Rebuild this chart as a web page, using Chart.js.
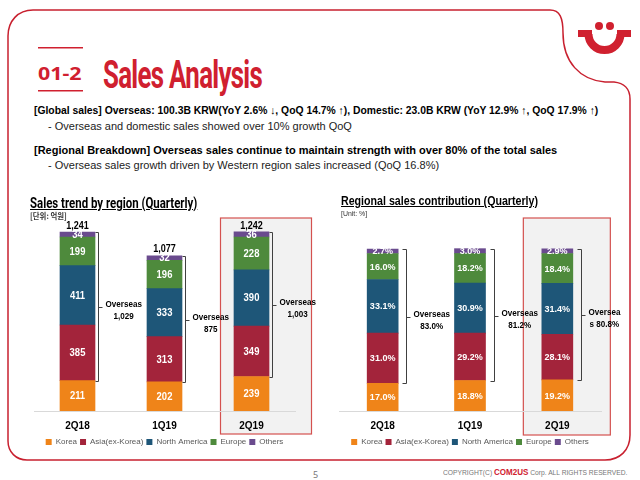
<!DOCTYPE html>
<html>
<head>
<meta charset="utf-8">
<script src="https://cdn.jsdelivr.net/npm/chart.js@4.4.0/dist/chart.umd.min.js"></script>
<style>
body { margin:0; width:640px; height:480px; background:#fff; position:relative; overflow:hidden;
       font-family:'Liberation Sans', Arial, sans-serif; color:#000; }
.t { position:absolute; white-space:nowrap; line-height:1; transform-origin:0 50%; }
canvas { position:absolute; }
svg { position:absolute; left:0; top:0; }
</style>
</head>
<body>
<svg width="640" height="480">
  <path d="M 33 10 H 550 C 560 10 563 18 563 33 C 563 62 580 80 605 82 H 614 C 624 83 630 89 630 99 V 435 C 630 450 620 460 605 460 H 27 C 16 460 8 452 8 441 V 36 C 8 21 18 10 33 10 Z"
        fill="none" stroke="#c8202f" stroke-width="1.5"/>
  <circle cx="599" cy="26" r="4" fill="#d0202f"/>
  <circle cx="610" cy="26" r="4" fill="#d0202f"/>
  <path d="M 588.5 34 A 16 16 0 0 0 620.5 34" fill="none" stroke="#d0202f" stroke-width="8"/>
  <rect x="578" y="30" width="14" height="7" fill="#d0202f"/>
  <rect x="617" y="30" width="14" height="7" fill="#d0202f"/>
  <rect x="38" y="47" width="45" height="1.5" fill="#d0202f"/>
  <rect x="38" y="90" width="45" height="1.5" fill="#d0202f"/>
</svg>

<div class="t" id="num" style="left:38px;top:61px;font:bold 18px 'Noto Sans';color:#d0202f">01-2</div>
<div class="t" id="ttl" style="left:103px;top:53px;font:bold 38px Roboto;color:#d0202f;letter-spacing:-1px">Sales Analysis</div>

<div class="t" id="l1" style="left:34px;top:105px;font-weight:bold;font-size:11px">[Global sales] Overseas: 100.3B KRW(YoY 2.6% &#8595;, QoQ 14.7% &#8593;), Domestic: 23.0B KRW (YoY 12.9% &#8593;, QoQ 17.9% &#8593;)</div>
<div class="t" style="left:48px;top:121px;font-size:11px;color:#222">- Overseas and domestic sales showed over 10% growth QoQ</div>
<div class="t" style="left:34px;top:145px;font-weight:bold;font-size:11px">[Regional Breakdown] Overseas sales continue to maintain strength with over 80% of the total sales</div>
<div class="t" style="left:48px;top:160px;font-size:11px;color:#222">- Overseas sales growth driven by Western region sales increased (QoQ 16.8%)</div>

<canvas id="chart1" width="300" height="267" style="left:20px;top:195px"></canvas>
<canvas id="chart2" width="300" height="267" style="left:325px;top:195px"></canvas>

<div class="t" id="h1" style="left:30px;top:194px;font:bold 15px Roboto;text-decoration:underline">Sales trend by region (Quarterly)</div>
<div class="t" id="u1" style="left:30px;top:210px;font:bold 8px 'Noto Sans CJK KR';color:#333">[단위: 억원]</div>
<div class="t" id="h2" style="left:341px;top:195px;font-weight:bold;font-size:12px;text-decoration:underline">Regional sales contribution (Quarterly)</div>
<div class="t" id="u2" style="left:341px;top:210px;font-size:8px;color:#333">[Unit: %]</div>

<div class="t" style="left:313px;top:468px;font:9px 'Noto Sans';color:#777">5</div>
<div class="t" id="cp" style="left:443px;top:468px;font-size:7.5px;color:#777">COPYRIGHT(C) <b style="color:#d0202f;font-size:9px">COM2US</b> Corp. ALL RIGHTS RESERVED.</div>

<script>
// ----------------------------------------------------------------------
const categories = ["2Q18","1Q19","2Q19"]
const regions = ["Korea","Asia(ex-Korea)","North America","Europe","Others"]

const salesKorea = [211,202,239]
const salesAsia = [385,313,349]
const salesNorthAmerica = [411,333,390]
const salesEurope = [199,196,228]
const salesOthers = [34,32,36]
const salesTotal = ["1,241","1,077","1,242"]
const salesOverseas = [["Overseas","1,029"],["Overseas","875"],["Overseas","1,003"]]

const shareKorea = [17.0,18.8,19.2]
const shareAsia = [31.0,29.2,28.1]
const shareNorthAmerica = [33.1,30.9,31.4]
const shareEurope = [16.0,18.2,18.4]
const shareOthers = [2.7,3.0,2.9]
const shareOverseas = [["Overseas","83.0%"],["Overseas","81.2%"],["Oversea","s 80.8%"]]

const colors = ['#EF8419','#A3243B','#1E5678','#4E8A3C','#6A4B8E']
const FONT = "'Liberation Sans', Arial, sans-serif"

// ----------------------------------------------------------------------
function fit (id, w)
{
    const el = document.getElementById(id)
    el.style.transform = 'scaleX(' + (w / el.offsetWidth) + ')'
}

fit('num', 44)
fit('ttl', 159)
fit('l1', 564)
fit('h1', 167)
fit('u1', 37)
fit('h2', 197)
fit('u2', 26)
fit('cp', 184)

// condensed text on the canvas
function narrowText (ctx, txt, x, y, sx)
{
    ctx.save()
    ctx.translate(x, y)
    ctx.scale(sx, 1)
    ctx.fillText(txt, 0, 0)
    ctx.restore()
}

// ----------------------------------------------------------------------
function overlayPlugin (cfg)
{
    return {
        id: 'overlay',
        afterLayout (chart) {
            // pull the legend row up closer to the category labels
            chart.legend.top -= 6
            chart.legend.bottom -= 6
        },
        beforeDraw (chart) {
            const ctx = chart.ctx
            const cx = chart.scales.x.getPixelForValue(cfg.boxIndex)
            const b = cfg.box
            ctx.save()
            ctx.fillStyle = '#f2f2f2'
            ctx.fillRect(cx + b[0], b[1], b[2] - b[0], b[3] - b[1])
            ctx.strokeStyle = '#d4514f'
            ctx.lineWidth = 1.2
            ctx.strokeRect(cx + b[0], b[1], b[2] - b[0], b[3] - b[1])
            ctx.restore()
        },
        afterDatasetsDraw (chart) {
            const ctx = chart.ctx
            const metas = chart.data.datasets.map((d, i) => chart.getDatasetMeta(i))
            ctx.save()
            ctx.textAlign = 'center'
            ctx.textBaseline = 'middle'
            ctx.fillStyle = '#fff'
            ctx.font = cfg.valueFont
            metas.forEach((m, di) => m.data.forEach((bar, i) => {
                const v = chart.data.datasets[di].data[i]
                const txt = cfg.decimals ? v.toFixed(1) + '%' : String(v)
                narrowText(ctx, txt, bar.x, (bar.y + bar.base) / 2 + 0.5, cfg.valueScale)
            }))

            const top = metas[metas.length - 1].data
            const korea = metas[0].data
            ctx.fillStyle = '#000'
            if (cfg.totals) {
                ctx.font = 'bold 10px ' + FONT
                ctx.textBaseline = 'bottom'
                top.forEach((bar, i) => narrowText(ctx, cfg.totals[i], bar.x, bar.y - 1, 0.9))
            }

            ctx.strokeStyle = '#404040'
            ctx.lineWidth = 1
            ctx.textBaseline = 'middle'
            ctx.font = 'bold 9.5px ' + FONT
            top.forEach((bar, i) => {
                const x = Math.round(bar.x + bar.width / 2 + cfg.gap) + 0.5
                const y0 = Math.round(bar.y) + 0.5
                const y1 = Math.round(korea[i].y) + 0.5
                const mid = Math.round((y0 + y1) / 2) + 0.5
                ctx.beginPath()
                ctx.moveTo(x - cfg.tick, y0)
                ctx.lineTo(x, y0)
                ctx.lineTo(x, y1)
                ctx.lineTo(x - cfg.tick, y1)
                ctx.moveTo(x, mid)
                ctx.lineTo(x + 4, mid)
                ctx.stroke()
                const lines = cfg.bracket[i]
                const tx = x + 7 + ctx.measureText(lines[0]).width * 0.85 / 2
                narrowText(ctx, lines[0], tx, mid - 3, 0.85)
                narrowText(ctx, lines[1], tx, mid + 9, 0.85)
            })
            ctx.restore()
        }
    }
}

// ----------------------------------------------------------------------
function makeChart (id, values, cfg)
{
    const datasets = values.map((v, i) => ({
        label: regions[i],
        data: v,
        backgroundColor: colors[i],
        borderWidth: 0,
        barThickness: cfg.barWidth
        }))

    return new Chart(document.getElementById(id), {
        type: 'bar',
        data: { labels: categories, datasets: datasets },
        options: {
            responsive: false,
            animation: false,
            events: [],
            layout: { padding: cfg.padding },
            scales: {
                x: {
                    stacked: true,
                    grid: { display: false, drawTicks: false },
                    border: { color: '#d9d9d9' },
                    ticks: { color: '#000', padding: 9, font: { family: FONT, size: 10, weight: 'bold' } }
                },
                y: { stacked: true, display: false, min: 0, max: cfg.max }
            },
            plugins: {
                legend: {
                    position: 'bottom',
                    labels: { boxWidth: 6, boxHeight: 6, padding: 3, color: '#595959',
                              font: { family: FONT, size: 8 } }
                },
                tooltip: { enabled: false }
            }
        },
        plugins: [overlayPlugin(cfg)]
    })
}

// ----------------------------------------------------------------------
makeChart('chart1',
    [salesKorea, salesAsia, salesNorthAmerica, salesEurope, salesOthers],
    { max: 1379, barWidth: 35, padding: { left: 14, right: 25, top: 17 },
      valueFont: 'bold 10.5px ' + FONT, valueScale: 0.9, decimals: false, totals: salesTotal,
      bracket: salesOverseas, gap: 2.5, tick: 3,
      boxIndex: 2, box: [-31, 23, 60, 239] })

makeChart('chart2',
    [shareKorea, shareAsia, shareNorthAmerica, shareEurope, shareOthers],
    { max: 122.7, barWidth: 31, padding: { left: 14, right: 24, top: 17 },
      valueFont: 'bold 9.5px ' + FONT, valueScale: 0.95, decimals: true, totals: null,
      bracket: shareOverseas, gap: 8, tick: 4,
      boxIndex: 2, box: [-34, 23, 53, 240] })
</script>
</body>
</html>
